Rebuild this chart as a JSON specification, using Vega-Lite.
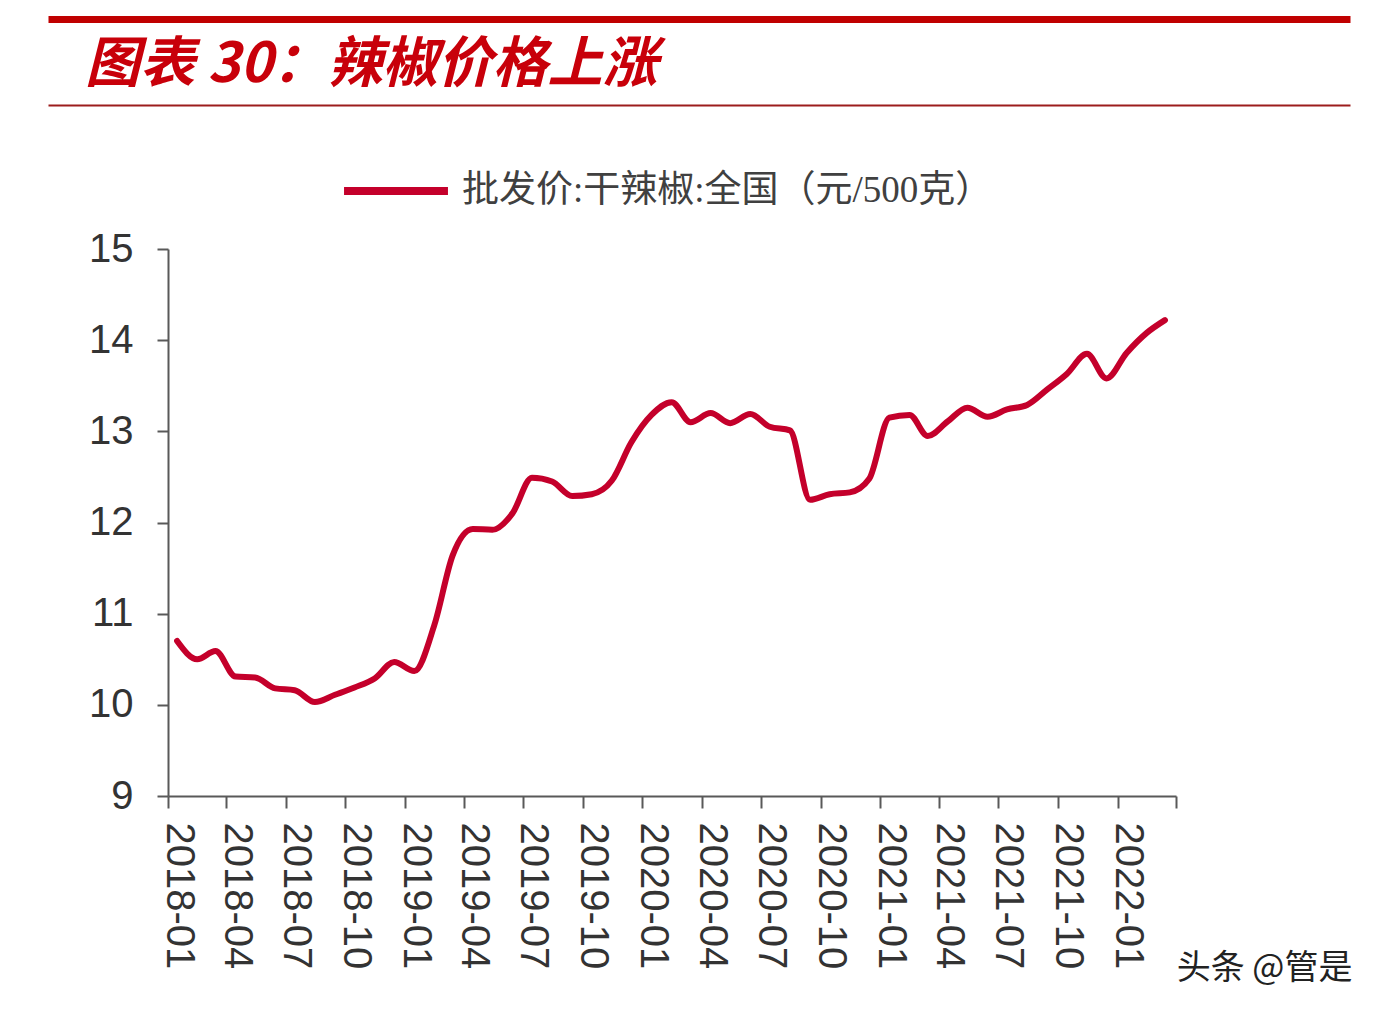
{
  "$schema": "https://vega.github.io/schema/vega-lite/v6.json",
  "autosize": {"type": "none"},
  "padding": {"left": 168, "top": 249, "right": 206, "bottom": 220},
  "width": 1008,
  "height": 547,
  "background": "white",
  "title": {
    "text": "图表 30：辣椒价格上涨",
    "anchor": "start",
    "frame": "group",
    "dx": -83,
    "offset": -118,
    "baseline": "alphabetic",
    "font": "Noto Sans CJK SC",
    "fontSize": 55,
    "fontWeight": "bold",
    "fontStyle": "italic",
    "color": "#c8000a"
  },
  "config": {
    "view": {"stroke": null},
    "axis": {"grid": false}
  },
  "layer": [
    {
      "data": {
        "values": [
          {"month": "2018-01-15", "price": 10.70},
          {"month": "2018-02-15", "price": 10.50},
          {"month": "2018-03-15", "price": 10.59},
          {"month": "2018-04-15", "price": 10.31},
          {"month": "2018-05-15", "price": 10.30},
          {"month": "2018-06-15", "price": 10.18},
          {"month": "2018-07-15", "price": 10.16},
          {"month": "2018-08-15", "price": 10.03},
          {"month": "2018-09-15", "price": 10.11},
          {"month": "2018-10-15", "price": 10.19},
          {"month": "2018-11-15", "price": 10.29},
          {"month": "2018-12-15", "price": 10.47},
          {"month": "2019-01-15", "price": 10.37},
          {"month": "2019-02-15", "price": 10.88},
          {"month": "2019-03-15", "price": 11.64},
          {"month": "2019-04-15", "price": 11.93},
          {"month": "2019-05-15", "price": 11.92},
          {"month": "2019-06-15", "price": 12.10},
          {"month": "2019-07-15", "price": 12.49},
          {"month": "2019-08-15", "price": 12.45},
          {"month": "2019-09-15", "price": 12.29},
          {"month": "2019-10-15", "price": 12.31},
          {"month": "2019-11-15", "price": 12.46},
          {"month": "2019-12-15", "price": 12.88},
          {"month": "2020-01-15", "price": 13.18},
          {"month": "2020-02-15", "price": 13.32},
          {"month": "2020-03-15", "price": 13.10},
          {"month": "2020-04-15", "price": 13.20},
          {"month": "2020-05-15", "price": 13.09},
          {"month": "2020-06-15", "price": 13.19},
          {"month": "2020-07-15", "price": 13.05},
          {"month": "2020-08-15", "price": 13.01},
          {"month": "2020-09-15", "price": 12.25},
          {"month": "2020-10-15", "price": 12.31},
          {"month": "2020-11-15", "price": 12.33},
          {"month": "2020-12-15", "price": 12.48},
          {"month": "2021-01-15", "price": 13.15},
          {"month": "2021-02-15", "price": 13.18},
          {"month": "2021-03-15", "price": 12.95},
          {"month": "2021-04-15", "price": 13.11},
          {"month": "2021-05-15", "price": 13.26},
          {"month": "2021-06-15", "price": 13.16},
          {"month": "2021-07-15", "price": 13.24},
          {"month": "2021-08-15", "price": 13.29},
          {"month": "2021-09-15", "price": 13.46},
          {"month": "2021-10-15", "price": 13.63},
          {"month": "2021-11-15", "price": 13.85},
          {"month": "2021-12-15", "price": 13.58},
          {"month": "2022-01-15", "price": 13.86},
          {"month": "2022-02-15", "price": 14.08},
          {"month": "2022-03-15", "price": 14.22}
        ]
      },
      "mark": {"type": "line", "strokeWidth": 6, "interpolate": "monotone", "strokeCap": "round"},
      "encoding": {
        "x": {
          "field": "month",
          "type": "temporal",
          "scale": {
            "type": "utc",
            "domain": [
              {"year": 2018, "month": 1, "date": 1, "utc": true},
              {"year": 2022, "month": 4, "date": 1, "utc": true}
            ]
          },
          "axis": {
            "orient": "bottom",
            "title": "头条 @管是",
            "titleFont": "Noto Sans CJK SC",
            "titleFontSize": 34,
            "titleFontWeight": "normal",
            "titleColor": "#222222",
            "titleX": 1184,
            "titleY": 172,
            "titleAlign": "right",
            "titleBaseline": "middle",
            "titleAngle": 0,
            "values": [
              {"year": 2018, "month": 1, "date": 1, "utc": true},
              {"year": 2018, "month": 4, "date": 1, "utc": true},
              {"year": 2018, "month": 7, "date": 1, "utc": true},
              {"year": 2018, "month": 10, "date": 1, "utc": true},
              {"year": 2019, "month": 1, "date": 1, "utc": true},
              {"year": 2019, "month": 4, "date": 1, "utc": true},
              {"year": 2019, "month": 7, "date": 1, "utc": true},
              {"year": 2019, "month": 10, "date": 1, "utc": true},
              {"year": 2020, "month": 1, "date": 1, "utc": true},
              {"year": 2020, "month": 4, "date": 1, "utc": true},
              {"year": 2020, "month": 7, "date": 1, "utc": true},
              {"year": 2020, "month": 10, "date": 1, "utc": true},
              {"year": 2021, "month": 1, "date": 1, "utc": true},
              {"year": 2021, "month": 4, "date": 1, "utc": true},
              {"year": 2021, "month": 7, "date": 1, "utc": true},
              {"year": 2021, "month": 10, "date": 1, "utc": true},
              {"year": 2022, "month": 1, "date": 1, "utc": true},
              {"year": 2022, "month": 4, "date": 1, "utc": true}
            ],
            "format": "%Y-%m",
            "labelExpr": "utcyear(datum.value) == 2022 && utcmonth(datum.value) == 3 ? '' : datum.label",
            "labelAngle": 90,
            "labelAlign": "left",
            "labelBaseline": "middle",
            "labelOffset": 10,
            "labelPadding": 14,
            "labelFont": "Liberation Sans",
            "labelFontSize": 40,
            "labelColor": "#333333",
            "labelOverlap": false,
            "labelFlush": false,
            "domainColor": "#595959",
            "domainWidth": 2,
            "tickColor": "#595959",
            "tickWidth": 2,
            "tickSize": 12
          }
        },
        "y": {
          "field": "price",
          "type": "quantitative",
          "scale": {"domain": [9, 15], "nice": false, "zero": false},
          "axis": {
            "title": null,
            "values": [9, 10, 11, 12, 13, 14, 15],
            "labelFont": "Liberation Sans",
            "labelFontSize": 40,
            "labelColor": "#333333",
            "labelPadding": 24,
            "domainColor": "#595959",
            "domainWidth": 2,
            "tickColor": "#595959",
            "tickWidth": 2,
            "tickSize": 11
          }
        },
        "color": {
          "datum": "批发价:干辣椒:全国（元/500克）",
          "scale": {"range": ["#c4002b"]},
          "legend": {
            "title": null,
            "orient": "none",
            "legendX": 172,
            "legendY": -114,
            "symbolType": "stroke",
            "symbolSize": 10800,
            "symbolStrokeWidth": 8,
            "labelFont": "Liberation Serif, Noto Sans CJK SC",
            "labelFontSize": 37,
            "labelColor": "#404040",
            "labelOffset": 10,
            "labelLimit": 800,
            "padding": 0
          }
        }
      }
    },
    {
      "data": {"values": [{"h": 0}, {"h": 1}]},
      "mark": {"type": "point", "opacity": 0},
      "encoding": {
        "x": {
          "field": "h",
          "type": "quantitative",
          "scale": {"domain": [0, 1], "range": [-120, 1182], "nice": false, "zero": false},
          "axis": {
            "orient": "top",
            "offset": 230,
            "title": null,
            "labels": false,
            "ticks": false,
            "domainColor": "#c00000",
            "domainWidth": 7
          }
        }
      }
    },
    {
      "data": {"values": [{"h": 0}, {"h": 1}]},
      "mark": {"type": "point", "opacity": 0},
      "encoding": {
        "x": {
          "field": "h",
          "type": "quantitative",
          "scale": {"domain": [0, 1], "range": [-120, 1182], "nice": false, "zero": false},
          "axis": {
            "orient": "top",
            "offset": 144,
            "title": null,
            "labels": false,
            "ticks": false,
            "domainColor": "#9c1c1c",
            "domainWidth": 2
          }
        }
      }
    }
  ],
  "resolve": {"scale": {"x": "independent"}, "axis": {"x": "independent"}}
}
